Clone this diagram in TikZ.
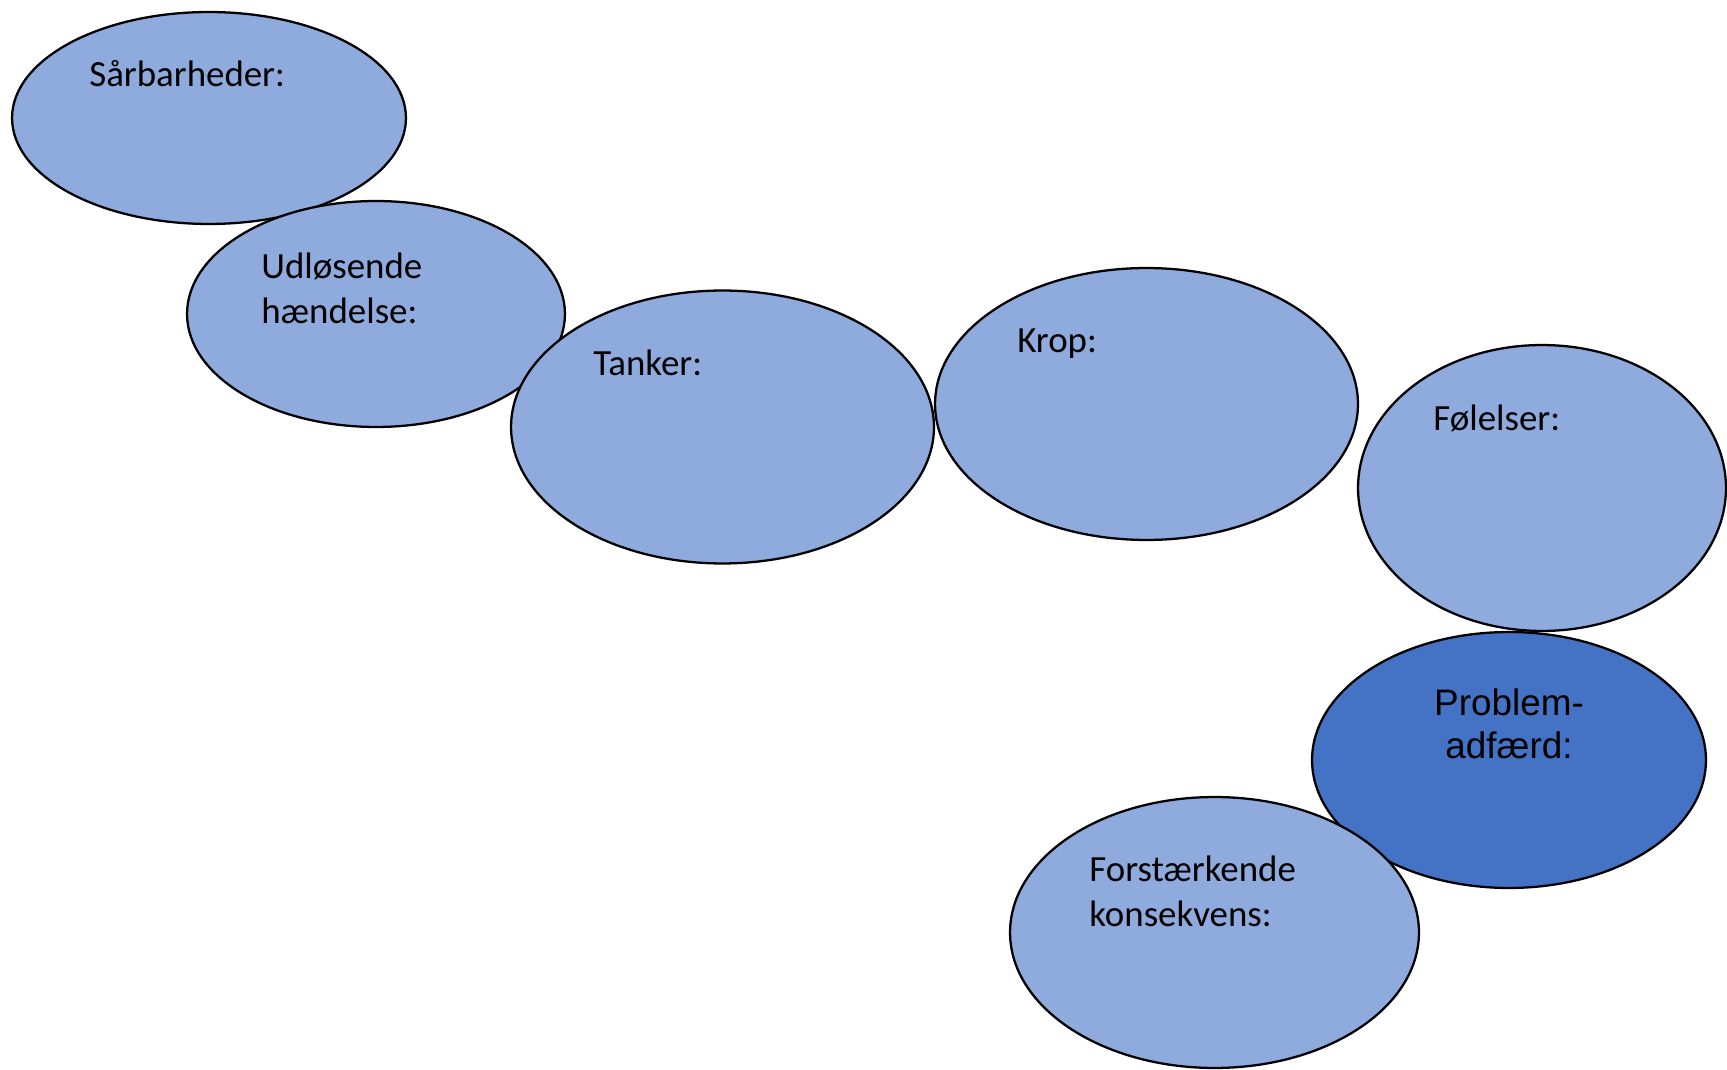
\documentclass[tikz,border=0pt]{standalone}
\usepackage{fontspec}
\setmainfont{Carlito}
\newfontfamily\arialfont{Liberation Sans}
\usetikzlibrary{shapes.geometric}
\definecolor{lightblue}{HTML}{8FAADC}
\definecolor{darkblue}{HTML}{4472C4}
\tikzset{
  blob/.style={ellipse, draw=black, line width=1.3pt, fill=lightblue, inner sep=0pt},
  darkblob/.style={blob, fill=darkblue},
  lbl/.style={anchor=base west, inner sep=0pt, font=\fontsize{21}{25}\selectfont},
  albl/.style={anchor=base, inner sep=0pt, font=\arialfont\fontsize{21}{25}\selectfont}
}
\begin{document}
\begin{tikzpicture}[x=0.02cm, y=-0.02cm]
\useasboundingbox (0,0) rectangle (1727,1070);
\node[blob, minimum width=7.88cm, minimum height=4.24cm] (e1) at (209,118) {};
\node[blob, minimum width=7.56cm, minimum height=4.52cm] (e2) at (376,314) {};
\node[blob, minimum width=8.46cm, minimum height=5.46cm] (e3) at (722.5,427) {};
\node[blob, minimum width=8.46cm, minimum height=5.44cm] (e4) at (1146.5,404) {};
\node[blob, minimum width=7.36cm, minimum height=5.72cm] (e5) at (1542,488) {};
\node[darkblob, minimum width=7.88cm, minimum height=5.12cm] (e6) at (1509,760) {};
\node[blob, minimum width=8.18cm, minimum height=5.42cm] (e7) at (1214.5,932.5) {};

\node[lbl] (t1) at (89,87) {Sårbarheder:};
\node[lbl] (t2a) at (261,279) {Udløsende};
\node[lbl] (t2b) at (261,324) {hændelse:};
\node[lbl] (t3) at (593,376) {Tanker:};
\node[lbl] (t4) at (1017,353) {Krop:};
\node[lbl] (t5) at (1433,431) {Følelser:};
\node[albl] (t6a) at (1509,715) {Problem-};
\node[albl] (t6b) at (1509,758) {adfærd:};
\node[lbl] (t7a) at (1089,881) {Forstærkende};
\node[lbl] (t7b) at (1089,926) {konsekvens:};
\end{tikzpicture}
\end{document}
